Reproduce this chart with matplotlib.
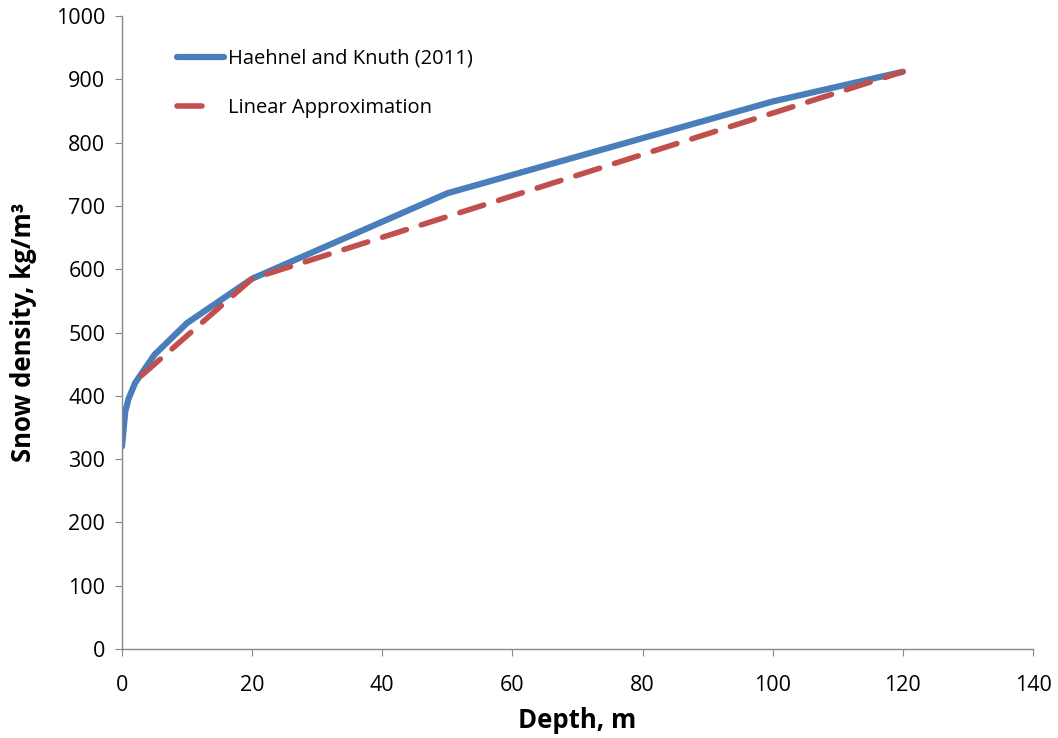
import numpy as np
import matplotlib.pyplot as plt

plt.rcParams['font.family'] = ['Open Sans', 'DejaVu Sans']

# Haehnel and Knuth (2011) density profile
hk_depth = [0, 0.5, 1, 2, 3, 5, 10, 20, 50, 100, 120]
hk_density = [320, 375, 395, 420, 435, 465, 515, 585, 720, 865, 912]

# Linear approximation
lin_depth = [3, 10, 20, 120]
lin_density = [432, 495, 585, 912]

xticks = [0, 20, 40, 60, 80, 100, 120, 140]
yticks = [0, 100, 200, 300, 400, 500, 600, 700, 800, 900, 1000]

fig = plt.figure(figsize=(10.58, 7.38), dpi=100)
ax = fig.add_axes([0.1153, 0.1206, 0.8611, 0.8577])

ax.plot(hk_depth, hk_density, color='#4a7ebb', linewidth=4.5,
        solid_capstyle='round', label='Haehnel and Knuth (2011)')
ax.plot(lin_depth, lin_density, color='#c0504d', linewidth=4,
        dashes=(4.5, 2.8), dash_capstyle='round', label='Linear Approximation')

ax.set_xlim(0, 140)
ax.set_ylim(0, 1000)
ax.set_xticks(xticks)
ax.set_yticks(yticks)

for s in ['top', 'right']:
    ax.spines[s].set_visible(False)
for s in ['left', 'bottom']:
    ax.spines[s].set_color('#888888')
    ax.spines[s].set_linewidth(1)
ax.tick_params(axis='both', direction='out', length=5, color='#888888',
               labelsize=15.5)
ax.tick_params(axis='x', pad=14)
ax.tick_params(axis='y', pad=7)

ax.set_xlabel('Depth, m', fontsize=18.5, fontweight='bold', labelpad=8)
ax.set_ylabel('Snow density, kg/m³', fontsize=18.5, fontweight='bold', labelpad=14)

leg = ax.legend(loc='upper left', bbox_to_anchor=(0.041, 0.977), frameon=False,
                fontsize=14.5, handlelength=2.3, handletextpad=0.2, labelspacing=1.45)
# only one dash in the legend sample, like the original
leg.get_lines()[1].set_dashes((4.5, 10))

plt.savefig('out.png', dpi=100)
